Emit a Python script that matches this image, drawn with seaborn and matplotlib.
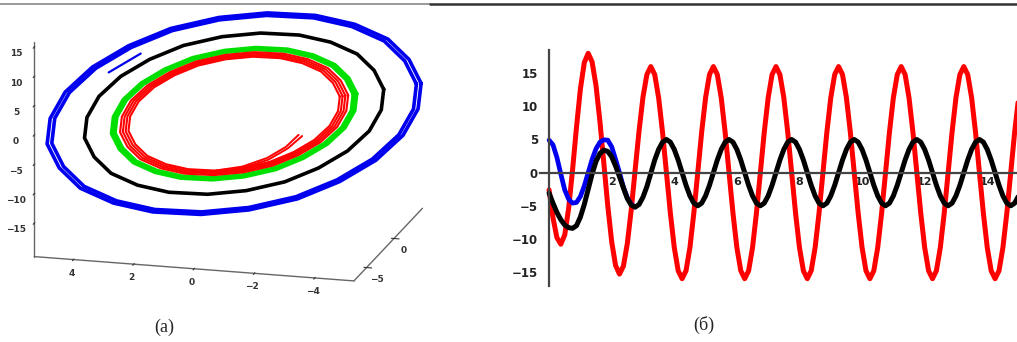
import numpy as np
import matplotlib
matplotlib.use("Agg")
import matplotlib.pyplot as plt
from matplotlib.lines import Line2D
from matplotlib.ticker import AutoMinorLocator
import seaborn as sns

# ---- panel (б): time series, one sample every 0.125 time units ----
t_step = 0.125
red_vals = [-2.6, -6.8, -9.8, -10.8, -9.4, -5.4, 0.4, 6.8, 12.6, 16.6, 18.0,
            16.7, 13.1, 7.7, 1.4, -5.0, -10.4, -14.0, -15.3,
            -14.1, -10.7, -5.6, 0.4, 6.3, 11.4, 14.8, 16.0,
            14.8, 11.3, 6.1, 0, -6.1, -11.3, -14.8, -16, -14.8, -11.3, -6.1, 0, 6.1, 11.3, 14.8,
            16, 14.8, 11.3, 6.1, 0, -6.1, -11.3, -14.8, -16, -14.8, -11.3, -6.1, 0, 6.1, 11.3, 14.8,
            16, 14.8, 11.3, 6.1, 0, -6.1, -11.3, -14.8, -16, -14.8, -11.3, -6.1, 0, 6.1, 11.3, 14.8,
            16, 14.8, 11.3, 6.1, 0, -6.1, -11.3, -14.8, -16, -14.8, -11.3, -6.1, 0, 6.1, 11.3, 14.8,
            16, 14.8, 11.3, 6.1, 0, -6.1, -11.3, -14.8, -16, -14.8, -11.3, -6.1, 0, 6.1, 11.3, 14.8,
            16, 14.8, 11.3, 6.1, 0, -6.1, -11.3, -14.8, -16, -14.8, -11.3, -6.1, 0, 6.1, 11.3]
black_vals = [-3.1, -4.6, -6.0, -7.1, -7.9, -8.3, -8.4,
              -8.0, -6.7, -4.8, -2.5, -0.2, 1.7, 2.9, 3.4,
              3.2, 2.4, 1.0, -0.6, -2.3, -3.9, -4.9, -5.2,
              -4.8, -3.7, -2.1, -0.1, 1.9, 3.5, 4.6, 5.0,
              4.6, 3.5, 1.9, 0, -1.9, -3.5, -4.6, -5, -4.6, -3.5, -1.9, 0, 1.9, 3.5, 4.6,
              5, 4.6, 3.5, 1.9, 0, -1.9, -3.5, -4.6, -5, -4.6, -3.5, -1.9, 0, 1.9, 3.5, 4.6,
              5, 4.6, 3.5, 1.9, 0, -1.9, -3.5, -4.6, -5, -4.6, -3.5, -1.9, 0, 1.9, 3.5, 4.6,
              5, 4.6, 3.5, 1.9, 0, -1.9, -3.5, -4.6, -5, -4.6, -3.5, -1.9, 0, 1.9, 3.5, 4.6,
              5, 4.6, 3.5, 1.9, 0, -1.9, -3.5, -4.6, -5, -4.6, -3.5, -1.9, 0, 1.9, 3.5, 4.6,
              5, 4.6, 3.5, 1.9, 0, -1.9, -3.5, -4.6, -5, -4.6, -3.5]
blue_vals = [4.9, 4.2, 2.3, -0.2, -2.6, -4.0, -4.6, -4.5, -3.6, -2.0, 0.0, 2.0,
             3.6, 4.6, 4.95, 4.9, 3.9, 2.0, 0.0, -2.2, -3.8, -4.8, -5.2]
ts_xticks = [2, 4, 6, 8, 10, 12, 14]
ts_yticks = [-15, -10, -5, 0, 5, 10, 15]

# ---- panel (a): orbit outline (outer blue loop), x and z offsets ----
loop_dx = [-6.2, -5.8, -5.1, -4.0, -2.7, -1.1, 0.5, 2.1, 3.5, 4.7, 5.6, 6.1,
           6.2, 5.8, 5.1, 4.0, 2.7, 1.1, -0.5, -2.1, -3.5, -4.7, -5.6, -6.1]
loop_dz = [7.6, 11.5, 14.7, 16.8, 17.8, 17.6, 16.2, 13.7, 10.2, 6.1, 1.5, -3.2,
           -7.6, -11.5, -14.7, -16.8, -17.8, -17.6, -16.2, -13.7, -10.2, -6.1, -1.5, 3.2]
orbit_z0 = -1.5
# relative size of every full pass of each orbit
blue_scales = [1.0, 0.975]
black_scales = [0.80]
green_scales = [0.655, 0.638]
red_scales = [0.61, 0.595, 0.58, 0.565]
# open end pieces: first outline index, then the size at each point
blue_tails = [(8, [0.885, 0.885])]
red_tails = [(17, [0.565, 0.55, 0.52, 0.49, 0.455]),
             (17, [0.575, 0.565, 0.54, 0.51, 0.48])]

sns.set_style("white")
plt.rcParams['font.family'] = ['DejaVu Sans']

fig = plt.figure(figsize=(10.17, 3.42), dpi=100)

# ---------- left: 3D orbits ----------
ax3 = fig.add_axes([-0.005, 0.12, 0.45, 1.0], projection='3d', proj_type='ortho')
ax3.view_init(elev=16.5, azim=-75)
ax3.set_box_aspect((4, 3.2, 2.7), zoom=1.36)

dx = np.array(loop_dx)
dz = np.array(loop_dz)

def full_pass(scale):
    xs = np.append(dx, dx[0]) * scale
    zs = np.append(dz, dz[0]) * scale + orbit_z0
    return xs, np.zeros_like(xs), zs

def tail(i0, sizes):
    sizes = np.array(sizes)
    idx = np.arange(i0, i0 + len(sizes))
    return dx[idx] * sizes, np.zeros(len(sizes)), dz[idx] * sizes + orbit_z0

lines = []
for s in blue_scales:
    lines += ax3.plot(*full_pass(s), color='#0000ee', lw=2.6)
for i0, sz in blue_tails:
    lines += ax3.plot(*tail(i0, sz), color='#0000ee', lw=1.6)
for s in black_scales:
    lines += ax3.plot(*full_pass(s), color='black', lw=2.6)
for s in green_scales:
    lines += ax3.plot(*full_pass(s), color='#00e000', lw=2.8)
for s in red_scales:
    lines += ax3.plot(*full_pass(s), color='#ff0000', lw=1.5)
for i0, sz in red_tails:
    lines += ax3.plot(*tail(i0, sz), color='#ff0000', lw=1.4)
for ln in lines:
    ln.set_clip_on(False)

ax3.set_xlim(-5.3, 5.3)
ax3.invert_xaxis()
ax3.set_ylim(-7.3, 5.2)
ax3.set_zlim(-20.7, 15.8)
ax3.set_xticks([4, 2, 0, -2, -4])
ax3.set_yticks([-5, 0])
ax3.set_zticks([-15, -10, -5, 0, 5, 10, 15])
ax3.zaxis.set_ticks_position('lower')
ax3.grid(False)
for axis in (ax3.xaxis, ax3.yaxis, ax3.zaxis):
    axis.set_pane_color((1, 1, 1, 0))
    axis.pane.set_edgecolor((1, 1, 1, 0))
    axis.line.set_color('#666666')
    axis.line.set_linewidth(1.0)
ax3.tick_params(labelsize=6.5, colors='#333333')
ax3.tick_params(axis='x', pad=-4)
ax3.tick_params(axis='y', pad=-4)
ax3.tick_params(axis='z', pad=-2)
for lab in ax3.get_xticklabels() + ax3.get_yticklabels() + ax3.get_zticklabels():
    lab.set_fontweight('bold')

# ---------- right: time series ----------
ax2 = fig.add_axes([540 / 1017, 56 / 342, 1 - 540 / 1017, 236 / 342])
t_red = np.arange(len(red_vals)) * t_step
t_black = np.arange(len(black_vals)) * t_step
t_blue = np.arange(len(blue_vals)) * t_step
sns.lineplot(x=t_red, y=red_vals, color='#ff0000', lw=3.6, ax=ax2)
sns.lineplot(x=t_blue, y=blue_vals, color='#0000ee', lw=3.4, ax=ax2)
sns.lineplot(x=t_black, y=black_vals, color='black', lw=3.6, ax=ax2)

ax2.set_xlim(-0.29, 14.95)
ax2.set_ylim(-17.1, 18.5)
for side in ('top', 'right'):
    ax2.spines[side].set_visible(False)
ax2.spines['left'].set_position(('data', 0))
ax2.spines['bottom'].set_position(('data', 0))
for side in ('left', 'bottom'):
    ax2.spines[side].set_color('#444444')
    ax2.spines[side].set_linewidth(1.6)
    ax2.spines[side].set_zorder(5)
ax2.set_xticks(ts_xticks)
ax2.set_yticks(ts_yticks)
ax2.yaxis.set_minor_locator(AutoMinorLocator(5))
ax2.tick_params(axis='y', which='major', length=3, width=1, pad=5,
                labelsize=8.5, colors='#222222')
ax2.tick_params(axis='y', which='minor', length=1.5, width=0.6, colors='#555555')
ax2.tick_params(axis='x', which='major', length=2, width=1, pad=1,
                labelsize=8, colors='#222222')
for lab in ax2.get_xticklabels() + ax2.get_yticklabels():
    lab.set_fontweight('bold')
ax2.set_xlabel('')
ax2.set_ylabel('')

# ---------- frame line and captions ----------
fig.add_artist(Line2D([0, 0.423], [0.988, 0.988], color='#888888', lw=1.2))
fig.add_artist(Line2D([0.423, 1], [0.988, 0.988], color='#333333', lw=1.8))
fig.text(164 / 1017, 1 - 327 / 342, '(a)', ha='center', va='center',
         fontsize=13, family='Liberation Serif')
fig.text(704 / 1017, 1 - 325 / 342, '(б)', ha='center', va='center',
         fontsize=13, family='Liberation Serif')

fig.savefig('out.png', dpi=100)
